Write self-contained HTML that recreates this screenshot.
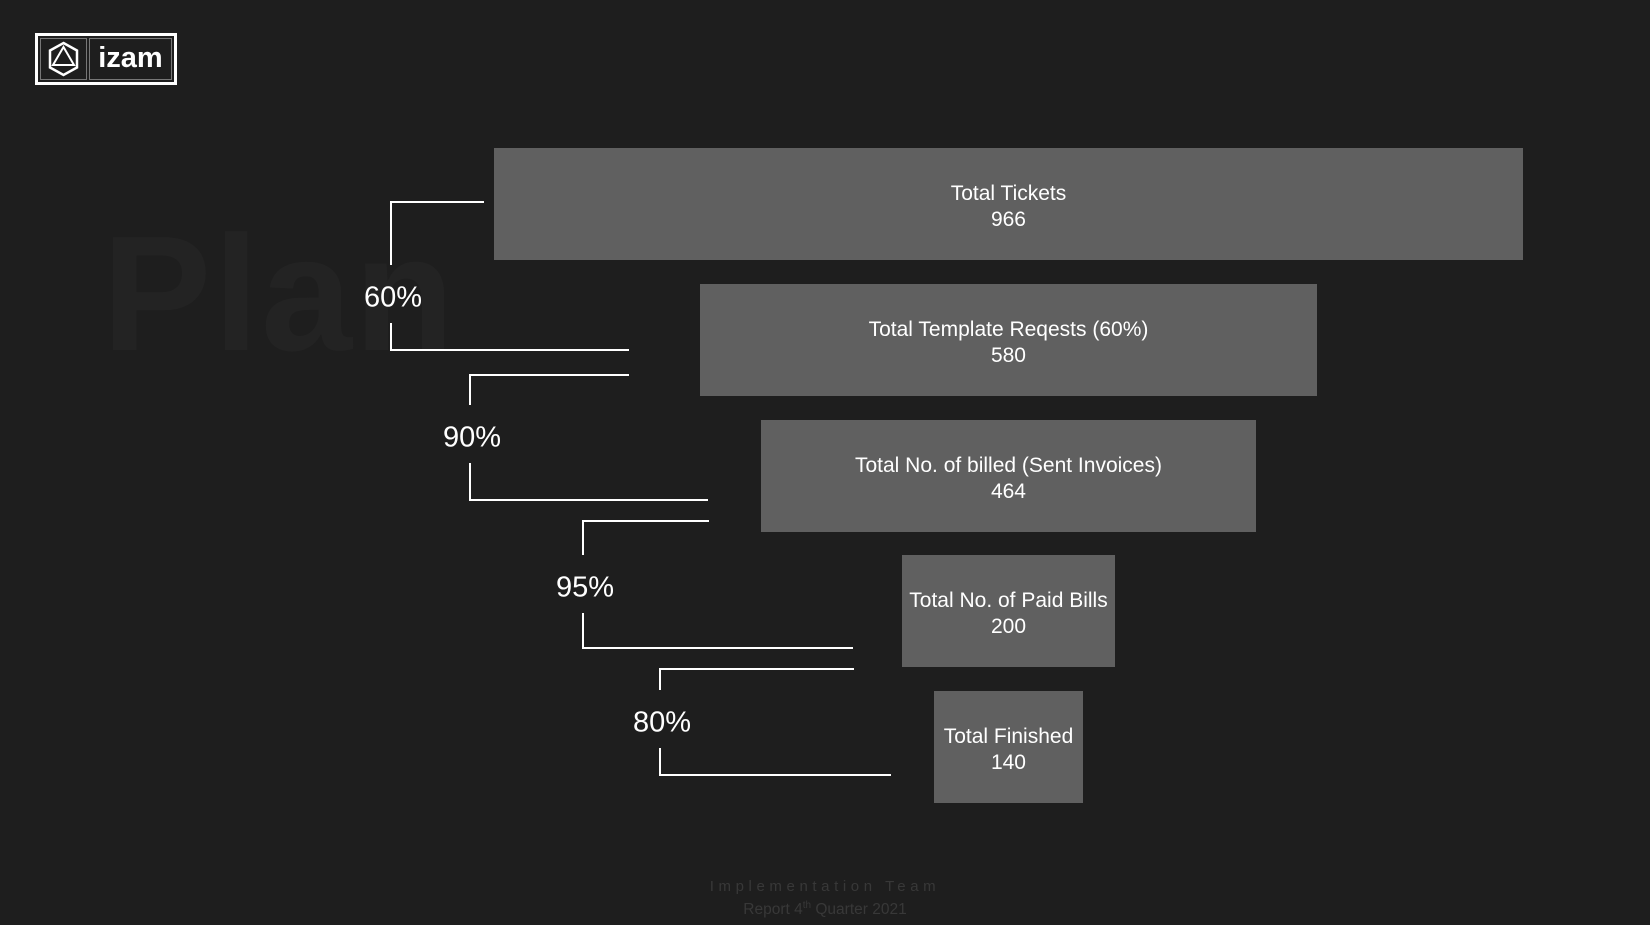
<!DOCTYPE html>
<html><head><meta charset="utf-8">
<style>
html,body{margin:0;padding:0;background:#1e1e1e;}
#root{position:relative;width:1650px;height:925px;overflow:hidden;background:#1e1e1e;font-family:"Liberation Sans","DejaVu Sans",sans-serif;}
.bar{position:absolute;background:#606060;color:#fff;display:flex;flex-direction:column;justify-content:center;align-items:center;font-size:21px;line-height:26px;white-space:nowrap;padding-top:6px;box-sizing:border-box;}
.ln{position:absolute;background:#fff;}
.pct{position:absolute;color:#fff;font-size:29px;transform:translate(-50%,-50%);white-space:nowrap;}
</style></head>
<body>
<div id="root">
  <div style="position:absolute;left:102px;top:200px;font-size:164px;font-weight:bold;color:#232323;letter-spacing:2px;">Plan</div>
  <div style="position:absolute;left:35px;top:33px;width:136px;height:46px;border:3px solid #fff;">
    <div style="position:absolute;left:2px;top:2px;width:45px;height:40px;border:1px solid #777;">
      <svg width="45" height="40" viewBox="0 0 45 40">
        <polygon points="22.5,4 36,11.5 36,28.5 22.5,36 9,28.5 9,11.5" fill="none" stroke="#fff" stroke-width="2.5"/>
        <polygon points="22.5,8 33,26 12,26" fill="none" stroke="#fff" stroke-width="2"/>
      </svg>
    </div>
    <div style="position:absolute;left:51px;top:2px;width:81px;height:40px;border:1px solid #777;color:#fff;font-weight:bold;font-size:29px;line-height:38px;text-align:center;">izam</div>
  </div>
  <div id="chart"></div>
  <div style="position:absolute;left:0;width:1650px;top:878px;text-align:center;color:#383838;font-size:15px;letter-spacing:4.6px;">Implementation Team</div>
  <div style="position:absolute;left:0;width:1650px;top:900px;text-align:center;color:#383838;font-size:15.5px;">Report 4<sup style="font-size:10px">th</sup> Quarter 2021</div>
</div>
<script>
const labels=["Total Tickets","Total Template Reqests (60%)","Total No. of billed (Sent Invoices)","Total No. of Paid Bills","Total Finished"];
const values=[966,580,464,200,140];
const pctLabels=["60%","90%","95%","80%"];
const chart=document.getElementById('chart');
const cx=1008.5, k=1.065, top0=148, pitch=135.8, bh=112;
function xw(v){return v*k;}
function yTop(i){return top0+i*pitch;}
values.forEach((v,i)=>{
  const b=document.createElement('div');
  b.className='bar';
  
  
  const w=xw(v);
  b.style.left=(cx-w/2)+'px';b.style.width=w+'px';
  b.style.top=yTop(i)+'px';b.style.height=bh+'px';
  b.innerHTML='<div>'+labels[i]+'</div><div>'+v+'</div>';
  chart.appendChild(b);
});
function line(x,y,w,h,name){
  const d=document.createElement('div');d.className='ln';
  
  
  d.style.left=x+'px';d.style.top=y+'px';d.style.width=w+'px';d.style.height=h+'px';
  chart.appendChild(d);
}
const bx=[390,469,582,659], topX=[484,629,709,854], botX=[629,708,853,891];
const topY=[201,374,520,668], botY=[349,499,647,774], labY=[298,438,588,723];
pctLabels.forEach((p,i)=>{
  line(bx[i],topY[i],topX[i]-bx[i],1.5,'bracket-top-'+i);
  line(bx[i],topY[i],1.5,labY[i]-topY[i]-33,'bracket-upper-'+i);
  line(bx[i],labY[i]+25,1.5,botY[i]-labY[i]-25,'bracket-lower-'+i);
  line(bx[i],botY[i],botX[i]-bx[i],1.5,'bracket-bottom-'+i);
  const t=document.createElement('div');t.className='pct';
  
  
  t.style.left=(bx[i]+3)+'px';t.style.top=labY[i]+'px';t.textContent=p;
  chart.appendChild(t);
});
</script>
</body></html>
